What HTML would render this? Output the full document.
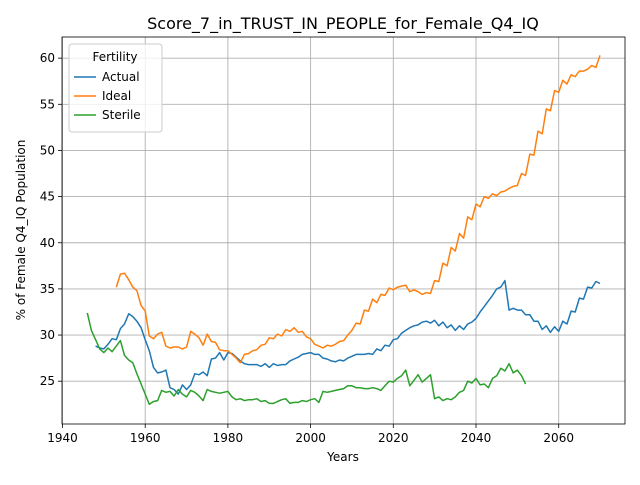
<!DOCTYPE html>
<html><head><meta charset="utf-8"><style>
body{margin:0;background:#fff;font-family:"Liberation Sans","DejaVu Sans",sans-serif}
svg text{font-family:"DejaVu Sans","Liberation Sans",sans-serif}
</style></head><body>
<svg id="c" width="640" height="480" xmlns="http://www.w3.org/2000/svg"></svg>
<script>
const actualStart=1948;
const actualVals=[28.8,28.6,28.5,29.0,29.6,29.5,30.7,31.2,32.3,32.0,31.5,30.8,29.5,28.3,26.5,25.9,26.0,26.2,24.3,24.1,23.6,24.6,24.1,24.6,25.8,25.7,26.0,25.6,27.4,27.5,28.1,27.3,28.1,28.0,27.6,27.2,26.9,26.8,26.8,26.8,26.6,26.9,26.5,26.9,26.7,26.8,26.8,27.2,27.4,27.6,27.9,28.0,28.1,27.9,27.9,27.5,27.4,27.2,27.1,27.3,27.2,27.5,27.7,27.9,27.9,27.9,28.0,27.9,28.5,28.3,28.9,28.8,29.5,29.6,30.2,30.5,30.8,31.0,31.1,31.4,31.5,31.3,31.6,31.0,31.4,30.8,31.1,30.5,31.0,30.6,31.2,31.4,31.8,32.5,33.1,33.7,34.3,35.0,35.2,35.9,32.7,32.9,32.7,32.7,32.2,32.2,31.5,31.5,30.6,31.0,30.3,30.9,30.4,31.5,31.2,32.6,32.5,34.0,33.9,35.2,35.1,35.8,35.6];
const idealStart=1953;
const idealVals=[35.2,36.6,36.7,36.0,35.2,34.8,33.2,32.6,29.9,29.6,30.1,30.3,28.8,28.6,28.7,28.7,28.5,28.7,30.4,30.1,29.7,28.9,30.1,29.3,29.2,28.4,28.3,28.3,27.9,27.5,27.0,27.9,28.0,28.3,28.4,28.9,29.0,29.7,29.6,30.1,29.9,30.6,30.4,30.8,30.3,30.4,29.8,29.6,29.0,28.8,28.6,28.9,28.8,29.0,29.3,29.4,30.0,30.5,31.3,31.2,32.7,32.6,33.9,33.5,34.4,34.3,35.1,34.9,35.2,35.3,35.4,34.7,34.9,34.7,34.4,34.6,34.5,35.9,35.8,37.8,37.5,39.5,39.1,41.0,40.5,42.8,42.5,44.2,43.9,45.0,44.8,45.3,45.1,45.5,45.6,45.9,46.1,46.2,47.5,47.3,49.6,49.5,52.1,51.8,54.5,54.3,56.5,56.3,57.6,57.2,58.2,58.0,58.6,58.6,58.8,59.2,59.0,60.3];
const sterileStart=1946;
const sterileVals=[32.4,30.5,29.5,28.5,28.1,28.6,28.2,28.8,29.4,27.8,27.3,27.0,25.8,24.7,23.6,22.5,22.8,22.9,24.0,23.8,23.9,23.4,24.1,23.6,23.3,24.0,23.8,23.4,22.9,24.1,23.9,23.8,23.7,23.8,23.9,23.3,23.0,23.1,22.9,23.0,23.0,23.1,22.8,22.9,22.6,22.6,22.8,23.0,23.1,22.6,22.7,22.7,22.9,22.8,23.0,23.1,22.7,23.9,23.8,23.9,24.0,24.1,24.2,24.5,24.5,24.3,24.3,24.2,24.2,24.3,24.2,24.0,24.5,25.0,24.9,25.3,25.6,26.2,24.5,25.1,25.7,24.9,25.3,25.7,23.1,23.3,22.9,23.1,23.0,23.3,23.8,24.0,25.0,24.8,25.3,24.6,24.7,24.3,25.3,25.6,26.4,26.1,26.9,25.9,26.2,25.6,24.7];
const xTicks=[1940,1960,1980,2000,2020,2040,2060];
const yTicks=[25,30,35,40,45,50,55,60];
const seriesNames=["Actual","Ideal","Sterile"];
const colors=["#1f77b4","#ff7f0e","#2ca02c"];

const L=62,R=625,T=37,B=424;
const X=v=>62.5+(v-1940)*4.135;
const Y=v=>381.2-(v-25)*9.23;
const svg=document.getElementById('c');
const NS="http://www.w3.org/2000/svg";
function mk(tag,attrs,parent){const e=document.createElementNS(NS,tag);for(const k in attrs)e.setAttribute(k,attrs[k]);(parent||svg).appendChild(e);return e;}

const title=mk('text',{x:343,y:29,'text-anchor':'middle','font-size':16});


title.textContent="Score_7_in_TRUST_IN_PEOPLE_for_Female_Q4_IQ";

xTicks.forEach(t=>{
  const g=mk('line',{x1:X(t),x2:X(t),y1:T,y2:B,stroke:'#b0b0b0','stroke-width':0.9});
  
  
  mk('line',{x1:X(t),x2:X(t),y1:B,y2:B+4,stroke:'#000','stroke-width':0.8});
  const tx=mk('text',{x:X(t),y:B+18,'text-anchor':'middle','font-size':12});
  
  
  tx.textContent=t;
});
yTicks.forEach(t=>{
  const g=mk('line',{x1:L,x2:R,y1:Y(t),y2:Y(t),stroke:'#b0b0b0','stroke-width':0.9});
  
  
  mk('line',{x1:L-4,x2:L,y1:Y(t),y2:Y(t),stroke:'#000','stroke-width':0.8});
  const tx=mk('text',{x:L-7,y:Y(t)+4,'text-anchor':'end','font-size':12});
  
  
  tx.textContent=t;
});

[[actualStart,actualVals],[idealStart,idealVals],[sterileStart,sterileVals]].forEach((s,i)=>{
  const pts=s[1].map((v,j)=>X(s[0]+j).toFixed(1)+','+Y(v).toFixed(1)).join(' ');
  const p=mk('polyline',{points:pts,fill:'none',stroke:colors[i],'stroke-width':1.5,'stroke-linejoin':'round'});
  
  
});

const frame=mk('rect',{x:L,y:T,width:R-L,height:B-T,fill:'none',stroke:'#000','stroke-width':0.8});



const xl=mk('text',{x:343,y:461,'text-anchor':'middle','font-size':12});


xl.textContent="Years";
const yl=mk('text',{x:25,y:230,'text-anchor':'middle','font-size':12,transform:'rotate(-90 25 230)'});


yl.textContent="% of Female Q4_IQ Population";

const lg=mk('g',{});


mk('rect',{x:69,y:44,width:93,height:88,rx:3,fill:'#fff','fill-opacity':0.8,stroke:'#ccc'},lg);
const lt=mk('text',{x:115,y:61,'text-anchor':'middle','font-size':12},lg);
lt.textContent="Fertility";
seriesNames.forEach((n,i)=>{
  const y=77+i*19;
  const e=mk('g',{},lg);
  
  
  mk('line',{x1:74,x2:96,y1:y,y2:y,stroke:colors[i],'stroke-width':1.5},e);
  const t=mk('text',{x:102,y:y+4,'font-size':12},e);
  t.textContent=n;
});
</script>
</body></html>
